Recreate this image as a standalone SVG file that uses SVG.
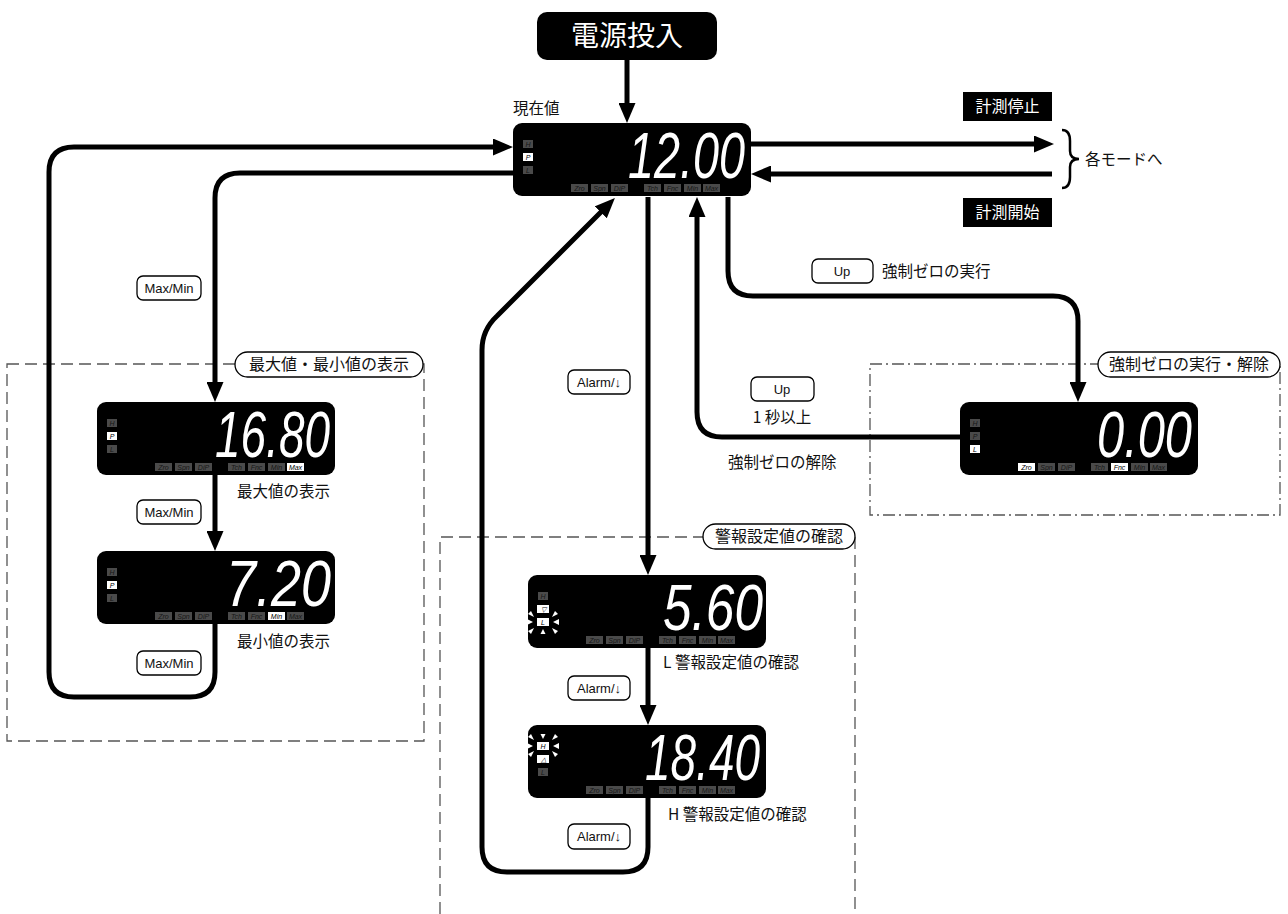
<svg xmlns="http://www.w3.org/2000/svg" xmlns:xlink="http://www.w3.org/1999/xlink" width="1288" height="914" viewBox="0 0 1288 914">
<style>
.bg{fill:#fff}
.panel{fill:#000}
.ind{fill:#4a4a4a}
.indt{font-family:"Liberation Sans",Arial,sans-serif;font-style:italic;font-size:7px;fill:#161616;text-anchor:middle}
.on{fill:#fff}
.ont{fill:#000}
.dig{font-family:"Liberation Sans",Arial,sans-serif;font-style:italic;font-size:64px;fill:#fff}
.conn{fill:none;stroke:#000;stroke-width:5;stroke-linejoin:round}
.btn{fill:#fff;stroke:#000;stroke-width:1.3}
.btnt{font-family:"Liberation Sans","Noto Sans CJK JP",sans-serif;font-size:13px;fill:#111;text-anchor:middle}
.lbl{font-family:"Noto Sans CJK JP",sans-serif;font-size:15.5px;fill:#111}
.dash{fill:none;stroke:#555;stroke-width:1.3;stroke-dasharray:12 6}
.dashdot{fill:none;stroke:#555;stroke-width:1.3;stroke-dasharray:12 4 2 4}
.pill{fill:#fff;stroke:#000;stroke-width:1.3}
.pillt{font-family:"Noto Sans CJK JP",sans-serif;font-size:16px;fill:#111;text-anchor:middle}
.blk{fill:#000}
.blkt{font-family:"Noto Sans CJK JP",sans-serif;fill:#fff;text-anchor:middle}
.ray{fill:#fff}
</style>
<defs>
<marker id="ah" markerUnits="userSpaceOnUse" markerWidth="20" markerHeight="17" viewBox="0 0 20 17" refX="6" refY="8.5" orient="auto">
<path d="M0,0 L20,8.5 L0,17 z" fill="#000"/>
</marker>
<g id="panel">
<rect class="panel" x="0" y="0" width="238" height="73" rx="9"/>
<rect class="ind" x="10" y="17" width="10" height="8"/>
<rect class="ind" x="10" y="30" width="10" height="8"/>
<rect class="ind" x="10" y="43" width="10" height="8"/>
<rect class="ind" x="58" y="61" width="17" height="8"/>
<rect class="ind" x="78" y="61" width="17" height="8"/>
<rect class="ind" x="98" y="61" width="17" height="8"/>
<rect class="ind" x="131" y="61" width="17" height="8"/>
<rect class="ind" x="151" y="61" width="17" height="8"/>
<rect class="ind" x="171" y="61" width="17" height="8"/>
<rect class="ind" x="190" y="61" width="17" height="8"/>
</g>
</defs>
<rect class="bg" x="0" y="0" width="1288" height="914"/>

<g id="groups">
<rect class="dash" x="7" y="364" width="417" height="377"/>
<rect class="dashdot" x="870" y="364" width="410" height="151"/>
<path class="dash" d="M440,914 V537 H855 V914"/>
</g>

<g id="connectors">
<path class="conn" marker-end="url(#ah)" d="M627,60 V109"/>
<path class="conn" marker-end="url(#ah)" d="M215,624 V672 Q215,697 190,697 H74 Q49,697 49,672 V172 Q49,147 74,147 H499"/>
<path class="conn" marker-end="url(#ah)" d="M513,173 H240 Q215,173 215,198 V388"/>
<path class="conn" marker-end="url(#ah)" d="M215,475 V537"/>
<path class="conn" marker-end="url(#ah)" d="M751,144 H1040"/>
<path class="conn" marker-end="url(#ah)" d="M1052,174 H765"/>
<path class="conn" marker-end="url(#ah)" d="M728,197 V271 Q728,296 753,296 H1053 Q1078,296 1078,321 V388"/>
<path class="conn" marker-end="url(#ah)" d="M960,437 H722 Q697,437 697,412 V211"/>
<path class="conn" marker-end="url(#ah)" d="M648,197 V561"/>
<path class="conn" marker-end="url(#ah)" d="M648,648 V711"/>
<path class="conn" marker-end="url(#ah)" d="M648,798 V847 Q648,872 623,872 H507 Q482,872 482,847 V350 Q482,330 497,316 L605,208"/>
<path d="M1062,130 Q1070,130 1070,141 V151 Q1070,159 1079,159 Q1070,159 1070,167 V177 Q1070,188 1062,188" fill="none" stroke="#000" stroke-width="2.5"/>
</g>

<g id="power">
<rect class="blk" x="537" y="12" width="180" height="48" rx="10"/>
<text class="blkt" x="627" y="46" font-size="28">電源投入</text>
</g>

<g id="stop">
<rect class="blk" x="963" y="92" width="89" height="29"/>
<text class="blkt" x="1007.5" y="112" font-size="16">計測停止</text>
</g>
<g id="start">
<rect class="blk" x="963" y="198" width="89" height="29"/>
<text class="blkt" x="1007.5" y="218" font-size="16">計測開始</text>
</g>
<text class="lbl" x="1085" y="165" font-size="16">各モードへ</text>

<g id="current" transform="translate(513,123)">
<use xlink:href="#panel" href="#panel"/>
<rect class="on" x="10" y="30" width="10" height="8"/>
<text class="indt" x="15" y="23.5">H</text>
<text class="indt ont" x="15" y="36.5">P</text>
<text class="indt" x="15" y="49.5">L</text>
<text class="indt" x="66.5" y="67.5">Zro</text>
<text class="indt" x="86.5" y="67.5">Spn</text>
<text class="indt" x="106.5" y="67.5">DiP</text>
<text class="indt" x="139.5" y="67.5">Tch</text>
<text class="indt" x="159.5" y="67.5">Fnc</text>
<text class="indt" x="179.5" y="67.5">Min</text>
<text class="indt" x="198.5" y="67.5">Max</text>
<text class="dig" x="115" y="55" textLength="117" lengthAdjust="spacingAndGlyphs">12.00</text>
</g>
<text class="lbl" x="513" y="114">現在値</text>

<g id="max" transform="translate(97,402)">
<use xlink:href="#panel" href="#panel"/>
<rect class="on" x="10" y="30" width="10" height="8"/>
<rect class="on" x="190" y="61" width="17" height="8"/>
<text class="indt" x="15" y="23.5">H</text>
<text class="indt ont" x="15" y="36.5">P</text>
<text class="indt" x="15" y="49.5">L</text>
<text class="indt" x="66.5" y="67.5">Zro</text>
<text class="indt" x="86.5" y="67.5">Spn</text>
<text class="indt" x="106.5" y="67.5">DiP</text>
<text class="indt" x="139.5" y="67.5">Tch</text>
<text class="indt" x="159.5" y="67.5">Fnc</text>
<text class="indt" x="179.5" y="67.5">Min</text>
<text class="indt ont" x="198.5" y="67.5">Max</text>
<text class="dig" x="118" y="55" textLength="115" lengthAdjust="spacingAndGlyphs">16.80</text>
</g>
<text class="lbl" x="237" y="497">最大値の表示</text>

<g id="min" transform="translate(97,551)">
<use xlink:href="#panel" href="#panel"/>
<rect class="on" x="10" y="30" width="10" height="8"/>
<rect class="on" x="171" y="61" width="17" height="8"/>
<text class="indt" x="15" y="23.5">H</text>
<text class="indt ont" x="15" y="36.5">P</text>
<text class="indt" x="15" y="49.5">L</text>
<text class="indt" x="66.5" y="67.5">Zro</text>
<text class="indt" x="86.5" y="67.5">Spn</text>
<text class="indt" x="106.5" y="67.5">DiP</text>
<text class="indt" x="139.5" y="67.5">Tch</text>
<text class="indt" x="159.5" y="67.5">Fnc</text>
<text class="indt ont" x="179.5" y="67.5">Min</text>
<text class="indt" x="198.5" y="67.5">Max</text>
<text class="dig" x="129" y="55" textLength="105" lengthAdjust="spacingAndGlyphs">7.20</text>
</g>
<text class="lbl" x="237" y="647">最小値の表示</text>

<g id="alarmL" transform="translate(528,575)">
<use xlink:href="#panel" href="#panel"/>
<rect class="on" x="9" y="30" width="12" height="8"/>
<rect class="on" x="9" y="43" width="12" height="8"/>
<text class="indt" x="15" y="23.5">H</text>
<text class="indt ont" x="15" y="36.5" font-style="normal">▽</text>
<text class="indt ont" x="15" y="49.5">L</text>
<text class="indt" x="66.5" y="67.5">Zro</text>
<text class="indt" x="86.5" y="67.5">Spn</text>
<text class="indt" x="106.5" y="67.5">DiP</text>
<text class="indt" x="139.5" y="67.5">Tch</text>
<text class="indt" x="159.5" y="67.5">Fnc</text>
<text class="indt" x="179.5" y="67.5">Min</text>
<text class="indt" x="198.5" y="67.5">Max</text>
<g class="ray" transform="translate(15,47)">
<polygon points="-10,0 -16,-3 -16,3"/>
<polygon points="10,0 16,-3 16,3"/>
<polygon points="0,7 -2.5,12 2.5,12"/>
<polygon points="-9,-5 -12,-11 -15,-8"/>
<polygon points="9,-5 12,-11 15,-8"/>
<polygon points="-9,6 -12,12 -15,9"/>
<polygon points="9,6 12,12 15,9"/>
</g>
<text class="dig" x="135" y="55" textLength="100" lengthAdjust="spacingAndGlyphs">5.60</text>
</g>
<text class="lbl" x="663" y="668">L 警報設定値の確認</text>

<g id="alarmH" transform="translate(528,725)">
<use xlink:href="#panel" href="#panel"/>
<rect class="on" x="9" y="17" width="12" height="8"/>
<rect class="on" x="9" y="30" width="12" height="8"/>
<text class="indt ont" x="15" y="23.5">H</text>
<text class="indt ont" x="15" y="36.5" font-style="normal">△</text>
<text class="indt" x="15" y="49.5">L</text>
<text class="indt" x="66.5" y="67.5">Zro</text>
<text class="indt" x="86.5" y="67.5">Spn</text>
<text class="indt" x="106.5" y="67.5">DiP</text>
<text class="indt" x="139.5" y="67.5">Tch</text>
<text class="indt" x="159.5" y="67.5">Fnc</text>
<text class="indt" x="179.5" y="67.5">Min</text>
<text class="indt" x="198.5" y="67.5">Max</text>
<g class="ray" transform="translate(15,21)">
<polygon points="-10,0 -16,-3 -16,3"/>
<polygon points="10,0 16,-3 16,3"/>
<polygon points="0,-7 -2.5,-12 2.5,-12"/>
<polygon points="-9,-6 -12,-12 -15,-9"/>
<polygon points="9,-6 12,-12 15,-9"/>
<polygon points="-9,5 -12,11 -15,8"/>
<polygon points="9,5 12,11 15,8"/>
</g>
<text class="dig" x="117" y="55" textLength="115" lengthAdjust="spacingAndGlyphs">18.40</text>
</g>
<text class="lbl" x="668" y="820">H 警報設定値の確認</text>

<g id="zero" transform="translate(960,402)">
<use xlink:href="#panel" href="#panel"/>
<rect class="on" x="10" y="43" width="10" height="8"/>
<rect class="on" x="58" y="61" width="17" height="8"/>
<rect class="on" x="151" y="61" width="17" height="8"/>
<text class="indt" x="15" y="23.5">H</text>
<text class="indt" x="15" y="36.5">P</text>
<text class="indt ont" x="15" y="49.5">L</text>
<text class="indt ont" x="66.5" y="67.5">Zro</text>
<text class="indt" x="86.5" y="67.5">Spn</text>
<text class="indt" x="106.5" y="67.5">DiP</text>
<text class="indt" x="139.5" y="67.5">Tch</text>
<text class="indt ont" x="159.5" y="67.5">Fnc</text>
<text class="indt" x="179.5" y="67.5">Min</text>
<text class="indt" x="198.5" y="67.5">Max</text>
<text class="dig" x="137" y="55" textLength="95" lengthAdjust="spacingAndGlyphs">0.00</text>
</g>

<g id="pills">
<rect class="pill" x="235" y="352" width="188" height="25" rx="12.5"/>
<text class="pillt" x="329" y="370">最大値・最小値の表示</text>
<rect class="pill" x="1098" y="352" width="182" height="25" rx="12.5"/>
<text class="pillt" x="1189" y="370">強制ゼロの実行・解除</text>
<rect class="pill" x="703" y="524" width="152" height="25" rx="12.5"/>
<text class="pillt" x="779" y="542">警報設定値の確認</text>
</g>

<g id="buttons">
<rect class="btn" x="137" y="276" width="64" height="24" rx="6"/>
<text class="btnt" x="169" y="293">Max/Min</text>
<rect class="btn" x="137" y="500" width="64" height="24" rx="6"/>
<text class="btnt" x="169" y="517">Max/Min</text>
<rect class="btn" x="137" y="651" width="64" height="24" rx="6"/>
<text class="btnt" x="169" y="668">Max/Min</text>
<rect class="btn" x="568" y="370" width="62" height="24" rx="6"/>
<text class="btnt" x="599" y="387">Alarm/↓</text>
<rect class="btn" x="568" y="676" width="62" height="24" rx="6"/>
<text class="btnt" x="599" y="693">Alarm/↓</text>
<rect class="btn" x="568" y="824" width="62" height="25" rx="6"/>
<text class="btnt" x="599" y="841">Alarm/↓</text>
<rect class="btn" x="812" y="259" width="61" height="24" rx="6"/>
<text class="btnt" x="842" y="276">Up</text>
<rect class="btn" x="751" y="377" width="63" height="24" rx="6"/>
<text class="btnt" x="782" y="394">Up</text>
</g>
<text class="lbl" x="882" y="277">強制ゼロの実行</text>
<text class="lbl" x="782" y="423" text-anchor="middle">1 秒以上</text>
<text class="lbl" x="728" y="468">強制ゼロの解除</text>
</svg>
